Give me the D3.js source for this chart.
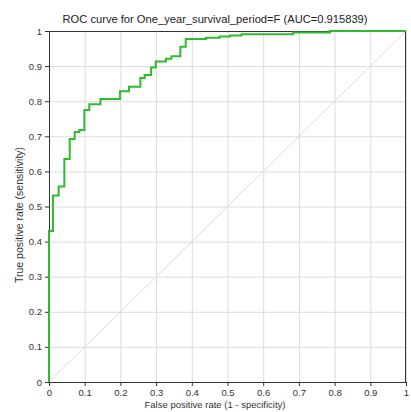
<!DOCTYPE html>
<html>
<head>
<meta charset="utf-8">
<script src="https://cdn.jsdelivr.net/npm/d3@7"></script>
<style>
  body { margin: 0; background: #fff; }
  svg { display: block; font-family: "Liberation Sans", Arial, sans-serif; }
</style>
</head>
<body>
<script>
// ROC curve step points (false positive rate, true positive rate)
var fpr = [0, 0, 0.011, 0.027, 0.043, 0.058, 0.072, 0.085, 0.099, 0.113, 0.144,
           0.199, 0.224, 0.256, 0.268, 0.286, 0.299, 0.328, 0.343, 0.368, 0.383,
           0.44, 0.478, 0.507, 0.539, 0.684, 0.787, 1];
var tpr = [0, 0.43, 0.531, 0.557, 0.635, 0.692, 0.712, 0.718, 0.775, 0.791, 0.806,
           0.828, 0.841, 0.866, 0.875, 0.896, 0.913, 0.921, 0.928, 0.955, 0.977,
           0.981, 0.984, 0.987, 0.991, 0.996, 1, 1];
var ticks = [0, 0.1, 0.2, 0.3, 0.4, 0.5, 0.6, 0.7, 0.8, 0.9, 1];
var tickLabels = ["0", "0.1", "0.2", "0.3", "0.4", "0.5", "0.6", "0.7", "0.8", "0.9", "1"];
var title = "ROC curve for One_year_survival_period=F (AUC=0.915839)";

var W = 411, H = 412;
var margin = {top: 31, right: 5, bottom: 30, left: 49};
var width = W - margin.left - margin.right,
    height = H - margin.top - margin.bottom;

var svg = d3.select("body").append("svg")
    .attr("width", W)
    .attr("height", H);

svg.append("rect").attr("width", W).attr("height", H).attr("fill", "#fff");

var x = d3.scaleLinear().domain([0, 1]).range([0, width]);
var y = d3.scaleLinear().domain([0, 1]).range([height, 0]);

var g = svg.append("g")
    .attr("transform", "translate(" + margin.left + "," + margin.top + ")");

// grid
g.selectAll(".vgrid").data(ticks).enter().append("line")
    .attr("x1", function(d) { return x(d) + 0.5; })
    .attr("x2", function(d) { return x(d) + 0.5; })
    .attr("y1", 0).attr("y2", height)
    .attr("stroke", "#dcdcdc");
g.selectAll(".hgrid").data(ticks).enter().append("line")
    .attr("y1", function(d) { return y(d) + 0.5; })
    .attr("y2", function(d) { return y(d) + 0.5; })
    .attr("x1", 0).attr("x2", width)
    .attr("stroke", "#dcdcdc");

// diagonal
g.append("line")
    .attr("x1", x(0)).attr("y1", y(0))
    .attr("x2", x(1)).attr("y2", y(1))
    .attr("stroke", "#dadada");

// axes
var xAxis = d3.axisBottom(x).tickValues(ticks)
    .tickFormat(function(d, i) { return tickLabels[i]; })
    .tickSize(4).tickSizeOuter(0);
var yAxis = d3.axisLeft(y).tickValues(ticks)
    .tickFormat(function(d, i) { return tickLabels[i]; })
    .tickSize(4).tickSizeOuter(0);

var gx = g.append("g")
    .attr("transform", "translate(0," + height + ")")
    .call(xAxis);
var gy = g.append("g").call(yAxis);

[gx, gy].forEach(function(a) {
    a.selectAll("path, line").attr("stroke", "#333");
    a.selectAll("text").attr("fill", "#333").style("font-size", "9.5px");
});

// box top/right
g.append("line").attr("x1", 0).attr("x2", width).attr("y1", 0.5).attr("y2", 0.5).attr("stroke", "#333");
g.append("line").attr("x1", width - 0.5).attr("x2", width - 0.5).attr("y1", 0).attr("y2", height).attr("stroke", "#333");

// ROC curve
var pts = fpr.map(function(d, i) { return [d, tpr[i]]; });
var line = d3.line()
    .x(function(d) { return x(d[0]); })
    .y(function(d) { return y(d[1]); })
    .curve(d3.curveStepAfter);

g.append("path")
    .datum(pts)
    .attr("fill", "none")
    .attr("stroke", "#2fbb2f")
    .attr("stroke-width", 2)
    .attr("d", line);

// labels
svg.append("text")
    .attr("x", 215).attr("y", 23)
    .attr("text-anchor", "middle")
    .attr("fill", "#222")
    .attr("textLength", 305)
    .attr("lengthAdjust", "spacingAndGlyphs")
    .style("font-size", "11px")
    .text(title);

svg.append("text")
    .attr("x", 215).attr("y", 408)
    .attr("text-anchor", "middle")
    .attr("fill", "#333")
    .style("font-size", "9.5px")
    .text("False positive rate (1 - specificity)");

svg.append("text")
    .attr("transform", "translate(23,215) rotate(-90)")
    .attr("text-anchor", "middle")
    .attr("fill", "#333")
    .style("font-size", "10.5px")
    .text("True positive rate (sensitivity)");
</script>
</body>
</html>
